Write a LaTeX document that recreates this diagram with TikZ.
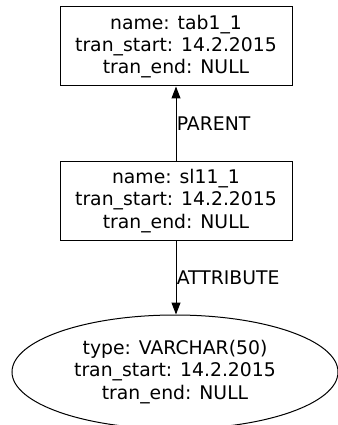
\documentclass[tikz,border=0pt]{standalone}
\usepackage{fontspec}
\setmainfont{DejaVu Sans}
\usetikzlibrary{shapes.geometric,arrows.meta}
\begin{document}
\begin{tikzpicture}[x=1pt,y=1pt,
  every node/.style={font=\fontsize{18.8}{22.3}\selectfont, align=center},
  recbox/.style={draw, line width=1pt, rectangle, minimum width=232pt, minimum height=79pt, inner sep=0pt},
  attrnode/.style={draw, line width=1pt, ellipse, minimum width=326pt, minimum height=114pt, inner sep=0pt},
  rel/.style={line width=1pt, -{Triangle[length=12pt,width=9pt]}},
  rellabel/.style={anchor=west, inner sep=0.3pt}
]
\useasboundingbox (0,0) rectangle (337,-425);
\node[recbox] (tab) at (176,-46.5) {name: tab1\_1\\tran\_start: 14.2.2015\\tran\_end: NULL};
\node[recbox] (sl) at (176,-201) {name: sl11\_1\\tran\_start: 14.2.2015\\tran\_end: NULL};
\node[attrnode] (attr) at (175,-372) {type: VARCHAR(50)\\tran\_start: 14.2.2015\\tran\_end: NULL};
\draw[rel] (sl.north) -- node[rellabel] {PARENT} (tab.south);
\draw[rel] (sl.south) -- node[rellabel] {ATTRIBUTE} (sl.south |- attr.north);
\end{tikzpicture}
\end{document}
